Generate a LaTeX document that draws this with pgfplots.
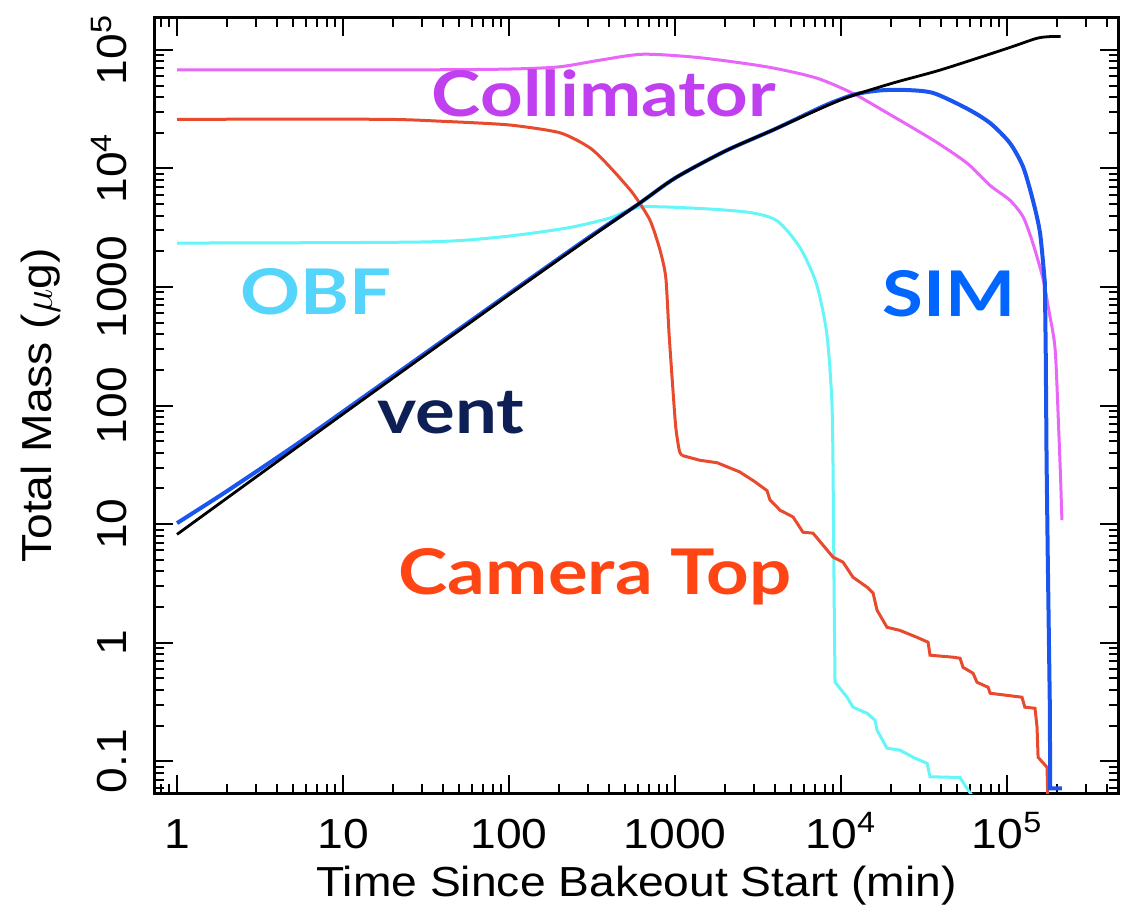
\documentclass[border=0pt]{standalone}
\usepackage{fontspec}
\setmainfont[FakeStretch=1.1]{Liberation Sans}
\newfontfamily\lato[FakeStretch=1.18]{Lato}
\usepackage{pgfplots}
\pgfplotsset{compat=1.18}
\definecolor{cCol}{HTML}{C040F0}
\definecolor{cColL}{HTML}{E866F8}
\definecolor{cRed}{HTML}{FF4514}
\definecolor{cRedL}{HTML}{E84A2E}
\definecolor{cObf}{HTML}{55D5FB}
\definecolor{cObfL}{HTML}{66F5F8}
\definecolor{cSim}{HTML}{0066FF}
\definecolor{cSimL}{HTML}{1A55F0}
\definecolor{cVent}{HTML}{0D1F55}
\begin{document}
\begin{tikzpicture}
\begin{axis}[
  name=ax,
  scale only axis,
  width=481.5pt, height=387.5pt,
  xmode=log, ymode=log,
  xmin=0.737, xmax=4.66e5,
  ymin=0.054, ymax=1.86e5,
  axis line style={line width=1.5pt},
  tick align=inside,
  xtick pos=both, ytick pos=both,
  major tick length=9pt, minor tick length=4.5pt,
  every tick/.style={black, line width=1pt},
  xtick={1,10,100,1000,10000,100000},
  xticklabels={1,10,100,1000,10\textsuperscript{4},10\textsuperscript{5}},
  minor xtick={0.8,0.9,2,3,4,5,6,7,8,9,20,30,40,50,60,70,80,90,200,300,400,500,600,700,800,900,2000,3000,4000,5000,6000,7000,8000,9000,20000,30000,40000,50000,60000,70000,80000,90000,200000,300000,400000},
  ytick={0.1,1,10,100,1000,10000,100000},
  yticklabels={0.1,1,10,100,1000,10\textsuperscript{4},10\textsuperscript{5}},
  minor ytick={0.06,0.07,0.08,0.09,0.2,0.3,0.4,0.5,0.6,0.7,0.8,0.9,2,3,4,5,6,7,8,9,20,30,40,50,60,70,80,90,200,300,400,500,600,700,800,900,2000,3000,4000,5000,6000,7000,8000,9000,20000,30000,40000,50000,60000,70000,80000,90000},
  ticklabel style={font=\fontsize{21}{25}\selectfont},
  xticklabel style={anchor=base},
  xticklabel shift=27.5pt,
  yticklabel style={rotate=90, anchor=base},
  yticklabel shift=14pt,
  xlabel={Time Since Bakeout Start (min)},
  ylabel={Total Mass ($\mu$g)},
  every axis x label/.style={at={(axis description cs:0.5,-0.134)}, anchor=base, font=\fontsize{21}{25}\selectfont},
  every axis y label/.style={at={(axis description cs:-0.107,0.5)}, rotate=90, anchor=base, font=\fontsize{21}{25}\selectfont},
  clip=true,
]
% Collimator
\addplot[cColL, line width=1.5pt, smooth, tension=0.45] coordinates {
(1,68000) (30,68000) (100,69000) (200,72000) (353,82000) (642,92000) (1413,86000) (3580,72000) (7100,58000) (11800,43000) (17800,31000) (35800,17400) (57400,11100) (79000,7200) (104000,5400) (125000,3900) (143000,2350) (164000,1200) (180000,600) (195000,294) (205000,60) (210000,25) (214000,10.8)
};
% OBF upper
\addplot[cObfL, line width=1.5pt, smooth, tension=0.45] coordinates {
(1,2350) (30,2400) (88,2640) (224,3150) (405,3820) (615,4730) (1410,4600) (2840,4250) (4140,3600) (5660,2150) (7100,1070) (8200,409) (8800,112) (8950,30)
};
% OBF lower
\addplot[cObfL, line width=1.5pt] coordinates {
(8950,30) (9100,2) (9200,0.465) (10870,0.347) (11800,0.286) (14350,0.254) (16030,0.222) (16480,0.183) (18920,0.129) (22650,0.124) (27200,0.108) (33000,0.096) (34370,0.074) (52100,0.073) (57400,0.059) (62400,0.05)
};
% Camera Top upper
\addplot[cRedL, line width=1.5pt, smooth, tension=0.4] coordinates {
(1,26000) (17,26000) (40,25000) (100,23300) (203,20000) (308,14900) (405,10300) (556,6200) (706,3670) (812,2050) (880,1200) (920,409) (965,155) (1010,66) (1060,42) (1100,38)
};
% Camera Top lower (stepped)
\addplot[cRedL, line width=1.5pt] coordinates {
(1100,38) (1410,34.6) (1790,33) (2450,27.6) (3000,23) (3580,19.2) (3735,16.0) (4295,13.1) (5140,11.5) (5900,8.55) (6780,8.4) (7790,6.65) (8950,5.27) (10280,4.78) (11800,3.57) (14350,2.94) (15600,2.62) (16480,1.88) (18920,1.35) (22650,1.27) (28700,1.11) (33440,1.01) (34370,0.785) (47300,0.755) (52100,0.74) (54300,0.62) (62400,0.553) (65900,0.464) (76900,0.421) (79100,0.375) (123000,0.347) (128000,0.286) (147400,0.28) (151600,0.194) (153800,0.108) (174100,0.089) (176000,0.05)
};
% SIM upper
\addplot[cSimL, line width=2pt, smooth, tension=0.45] coordinates {
(1,10.2) (2,19) (5,45) (10,89) (100,880) (300,2600) (600,5000) (1000,8300) (2000,14000) (4000,21500) (8000,34000) (12000,42000) (17000,45500) (24000,46000) (35800,43400) (57400,32000) (79000,24200) (104000,16400) (125000,10300) (143000,5420) (158000,2860) (169000,1080)
};
% SIM lower
\addplot[cSimL, line width=2pt] coordinates {
(169000,1080) (171000,294) (173000,35) (176000,5) (181000,0.3) (182000,0.059) (214000,0.059)
};
% vent
\addplot[black, line width=1.4pt, smooth, tension=0.45] coordinates {
(1,8.2) (10,85) (100,860) (300,2550) (600,5000) (1000,8300) (2000,14000) (4000,21500) (10000,38000) (20000,52000) (40000,68000) (100000,103000) (150000,125000) (180000,129500) (210000,130000)
};
\node[font=\lato\bfseries\fontsize{31.5}{36}\selectfont, text=cCol, anchor=base, inner sep=0pt] at (axis description cs:0.4663,0.8735) {Collimator};
\node[font=\lato\bfseries\fontsize{31.5}{36}\selectfont, text=cObf, anchor=base, inner sep=0pt] at (axis description cs:0.1672,0.6168) {OBF};
\node[font=\lato\bfseries\fontsize{31.5}{36}\selectfont, text=cSim, anchor=base, inner sep=0pt] at (axis description cs:0.8245,0.6142) {SIM};
\node[font=\lato\bfseries\fontsize{31.5}{36}\selectfont, text=cVent, anchor=base, inner sep=0pt] at (axis description cs:0.3074,0.4645) {vent};
\node[font=\lato\bfseries\fontsize{31.5}{36}\selectfont, text=cRed, anchor=base, inner sep=0pt] at (axis description cs:0.4569,0.2555) {Camera Top};
\end{axis}
\pgfresetboundingbox
\path ([shift={(-77.5pt,-58.5pt)}]ax.south west) rectangle ([shift={(3pt,9pt)}]ax.north east);
\end{tikzpicture}
\end{document}
